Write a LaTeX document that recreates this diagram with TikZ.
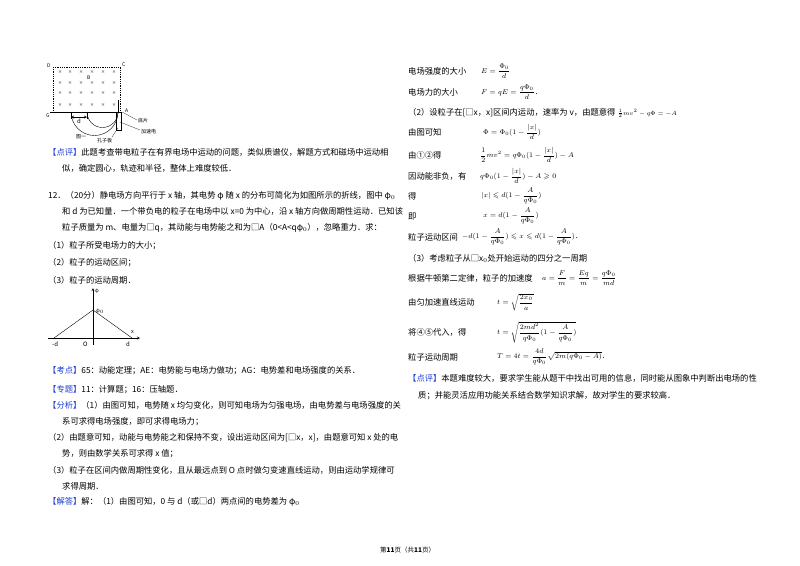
\documentclass[tikz,border=0pt]{standalone}
\usepackage{fontspec}
\setmainfont{Noto Sans CJK SC}
\usepackage{amsmath,amssymb}
\definecolor{kb}{RGB}{30,60,210}
\newcommand{\kb}[1]{\textcolor{kb}{【#1】}}
\begin{document}
\begin{tikzpicture}[x=1pt,y=-1pt,
  t/.style={anchor=base west,inner sep=0pt,font=\fontsize{8.3}{10}\selectfont},
  sm/.style={anchor=base west,inner sep=0pt,font=\fontsize{5}{6}\selectfont},
  m/.style={anchor=west,inner sep=0pt,font=\fontsize{7}{8}\selectfont}]
\useasboundingbox (0,0) rectangle (800,565);
% figure 1
\draw[densely dotted,thick] (53,67) rectangle (120,112);
\draw[thick] (50,112) -- (120,112);
\foreach \yy in {72,83,93,105}\foreach \xx in {60,70,81,92,103,114}
  \node[inner sep=0pt,font=\fontsize{4}{4}\selectfont] at (\xx,\yy) {×};
\draw (71,112) arc[start angle=180,end angle=0,radius=23.5];
\draw (87,112) arc[start angle=180,end angle=0,radius=15.5];
\draw[thick] (118,100) -- (118,112);
\draw (116,112) rectangle (121,130);
\draw (71,113)--(71,119) (87,113)--(87,119);
\draw[<->,>=stealth] (71,117)--(87,117);
\node[sm,font=\fontsize{6}{6}\selectfont\itshape] at (77,123) {d};
\node[sm,font=\fontsize{5}{6}\itshape\selectfont] at (47,67) {D};
\node[sm,font=\fontsize{5}{6}\itshape\selectfont] at (122,66) {C};
\node[sm,font=\fontsize{5}{6}\itshape\selectfont] at (46,117) {G};
\node[sm,font=\fontsize{5}{6}\itshape\selectfont] at (125,112) {A};
\node[sm,font=\fontsize{5}{6}\itshape\selectfont] at (87,79) {B};
\draw[very thin] (122,112)--(137,120) (120,122)--(140,130) (118,128)--(112,137);
\node[sm] at (138,122) {底片};
\node[sm] at (141,133) {加速电};
\node[sm] at (76,138) {图一};
\node[sm] at (97,142) {孔子板};
% left text
\node[t] at (48,155) {\kb{点评}此题考查带电粒子在有界电场中运动的问题，类似质谱仪，解题方式和磁场中运动相};
\node[t] at (62,171) {似，确定圆心，轨迹和半径，整体上难度较低．};
\node[t] at (48,198) {12．（20分）静电场方向平行于 x 轴，其电势 φ 随 x 的分布可简化为如图所示的折线，图中 φ$_0$};
\node[t] at (62,214) {和 d 为已知量．一个带负电的粒子在电场中以 x=0 为中心，沿 x 轴方向做周期性运动．已知该};
\node[t] at (62,230) {粒子质量为 m、电量为□q，其动能与电势能之和为□A（0<A<qφ$_0$），忽略重力．求：};
\node[t] at (48,248) {（1）粒子所受电场力的大小；};
\node[t] at (48,265) {（2）粒子的运动区间；};
\node[t] at (48,283) {（3）粒子的运动周期．};
% graph
\draw[-stealth] (93,345)--(93,288);
\draw[-stealth] (48,338)--(140,338);
\draw (54,338)--(93,310)--(132,338);
\node[sm,font=\fontsize{5}{6}\itshape\selectfont] at (95,292) {φ};
\node[sm] at (96,312) {φ$_0$};
\node[sm,font=\fontsize{5.5}{6}\selectfont] at (131,333) {x};
\node[sm,font=\fontsize{6}{6}\itshape\selectfont] at (52,346) {-d};
\node[sm,font=\fontsize{6}{6}\itshape\selectfont] at (83,346) {O};
\node[sm,font=\fontsize{6}{6}\itshape\selectfont] at (126,346) {d};
\node[t] at (48,373) {\kb{考点}65：动能定理；AE：电势能与电场力做功；AG：电势差和电场强度的关系．};
\node[t] at (48,392) {\kb{专题}11：计算题；16：压轴题．};
\node[t] at (48,408) {\kb{分析}（1）由图可知，电势随 x 均匀变化，则可知电场为匀强电场，由电势差与电场强度的关};
\node[t] at (62,424) {系可求得电场强度，即可求得电场力；};
\node[t] at (48,440) {（2）由题意可知，动能与电势能之和保持不变，设出运动区间为[□x，x]，由题意可知 x 处的电};
\node[t] at (62,456) {势，则由数学关系可求得 x 值；};
\node[t] at (48,473) {（3）粒子在区间内做周期性变化，且从最远点到 O 点时做匀变速直线运动，则由运动学规律可};
\node[t] at (62,489) {求得周期．};
\node[t] at (48,504) {\kb{解答}解：（1）由图可知，0 与 d（或□d）两点间的电势差为 φ$_0$};
% right column
\node[t] at (408,74) {电场强度的大小};
\node[m] at (481,71) {$E=\dfrac{\Phi_0}{d}$};
\node[t] at (408,95) {电场力的大小};
\node[m] at (481,92) {$F=qE=\dfrac{q\Phi_0}{d}$．};
\node[t] (l2) at (408,115) {（2）设粒子在[□x，x]区间内运动，速率为 v，由题意得};
\node[m,font=\fontsize{6}{7}\selectfont,anchor=base west] at ([xshift=1.5pt]l2.base east) {$\frac{1}{2}mv^2-q\Phi=-A$};
\node[t] at (408,135) {由图可知};
\node[m] at (483,132) {$\Phi=\Phi_0(1-\dfrac{|x|}{d})$};
\node[t] at (408,158) {由①②得};
\node[m] at (480,155) {$\dfrac12 mv^2=q\Phi_0(1-\dfrac{|x|}{d})-A$};
\node[t] at (408,179) {因动能非负，有};
\node[m] at (480,176) {$q\Phi_0(1-\dfrac{|x|}{d})-A\geqslant 0$};
\node[t] at (408,199) {得};
\node[m] at (481,196) {$|x|\leqslant d(1-\dfrac{A}{q\Phi_0})$};
\node[t] at (408,219) {即};
\node[m] at (483,216) {$x=d(1-\dfrac{A}{q\Phi_0})$};
\node[t] at (408,240) {粒子运动区间};
\node[m] at (462,237) {$-d(1-\dfrac{A}{q\Phi_0})\leqslant x\leqslant d(1-\dfrac{A}{q\Phi_0})$．};
\node[t] at (408,261) {（3）考虑粒子从□x$_0$处开始运动的四分之一周期};
\node[t] at (408,281) {根据牛顿第二定律，粒子的加速度};
\node[m] at (542,278) {$a=\dfrac{F}{m}=\dfrac{Eq}{m}=\dfrac{q\Phi_0}{md}$};
\node[t] at (408,305) {由匀加速直线运动};
\node[m] at (497,302) {$t=\sqrt{\dfrac{2x_0}{a}}$};
\node[t] at (408,335) {将④⑤代入，得};
\node[m] at (497,332) {$t=\sqrt{\dfrac{2md^2}{q\Phi_0}(1-\dfrac{A}{q\Phi_0})}$};
\node[t] at (408,360) {粒子运动周期};
\node[m] at (497,357) {$T=4t=\dfrac{4d}{q\Phi_0}\sqrt{2m(q\Phi_0-A)}$．};
\node[t] at (408,381) {\kb{点评}本题难度较大，要求学生能从题干中找出可用的信息，同时能从图象中判断出电场的性};
\node[t] at (418,398) {质；并能灵活应用功能关系结合数学知识求解，故对学生的要求较高．};
\node[t,font=\fontsize{6.5}{8}\selectfont] at (380,552) {第\textbf{11}页（共\textbf{11}页）};
\end{tikzpicture}
\end{document}
